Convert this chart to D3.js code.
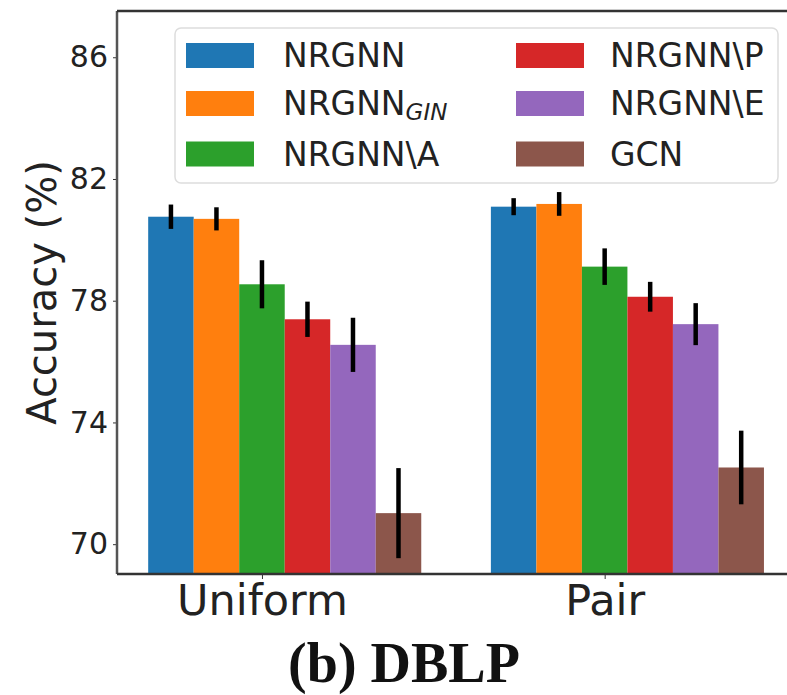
<!DOCTYPE html>
<html><head><meta charset="utf-8">
<script src="https://cdn.jsdelivr.net/npm/d3@7"></script>
<style>body{margin:0;background:#fff}svg{display:block}</style>
</head><body>
<svg id="chart" width="787" height="695"></svg>
<script>
const groups = ["Uniform", "Pair"];
const methods = ["NRGNN", "NRGNN_GIN", "NRGNN\\A", "NRGNN\\P", "NRGNN\\E", "GCN"];
const colors = ["#1f77b4", "#ff7f0e", "#2ca02c", "#d62728", "#9467bd", "#8c564b"];
const uniformMean = [80.76, 80.69, 78.54, 77.39, 76.55, 71.02];
const uniformErr  = [0.40, 0.38, 0.79, 0.58, 0.89, 1.48];
const pairMean    = [81.09, 81.18, 79.12, 78.13, 77.23, 72.52];
const pairErr     = [0.28, 0.39, 0.60, 0.49, 0.69, 1.21];
const yTicks = [70, 74, 78, 82, 86];

const means = [uniformMean, pairMean];
const errs = [uniformErr, pairErr];

const svg = d3.select("#chart");
const L = 117, T = 11, B = 574;
const barW = 0.1328;
const x = d3.scaleLinear().domain([-0.423, 1.555]).range([L, L + 1.978 * 342.7]);
const y = d3.scaleLinear().domain([69.02, 87.52]).range([B, T]);

// bars
const data = [];
groups.forEach((g, gi) => methods.forEach((m, mi) => data.push({gi, mi, v: means[gi][mi], e: errs[gi][mi]})));

svg.append("g").selectAll("rect").data(data).join("rect")
  .attr("x", d => x(d.gi + (d.mi - 2) * barW - barW / 2))
  .attr("width", d => x(barW) - x(0))
  .attr("y", d => y(d.v))
  .attr("height", d => y.range()[0] - y(d.v))
  .attr("fill", d => colors[d.mi]);

svg.append("g").selectAll("line").data(data).join("line")
  .attr("x1", d => x(d.gi + (d.mi - 2) * barW))
  .attr("x2", d => x(d.gi + (d.mi - 2) * barW))
  .attr("y1", d => y(d.v - d.e))
  .attr("y2", d => y(d.v + d.e))
  .attr("stroke", "#000").attr("stroke-width", 4.5);

// axes
const yAxis = svg.append("g").attr("transform", `translate(${L},0)`)
  .call(d3.axisLeft(y).tickValues(yTicks).tickSize(4).tickPadding(5));
yAxis.select(".domain").remove();
yAxis.selectAll("text").attr("font-family", "DejaVu Sans").attr("font-size", 30).attr("fill", "#222");
yAxis.selectAll("line").attr("stroke", "#333");

const xAxis = svg.append("g").attr("transform", `translate(0,${B})`)
  .call(d3.axisBottom(x).tickValues([0, 1]).tickFormat((d, i) => groups[i]).tickSize(5).tickPadding(5));
xAxis.select(".domain").remove();
xAxis.selectAll("text").attr("font-family", "DejaVu Sans").attr("font-size", 43).attr("fill", "#222");
xAxis.selectAll("line").attr("stroke", "#333");

// spines
svg.append("line").attr("x1", L).attr("x2", L).attr("y1", T).attr("y2", B).attr("stroke", "#555").attr("stroke-width", 2.5);
svg.append("line").attr("x1", L).attr("x2", 787).attr("y1", T).attr("y2", T).attr("stroke", "#333").attr("stroke-width", 2.5);
svg.append("line").attr("x1", L).attr("x2", 787).attr("y1", B).attr("y2", B).attr("stroke", "#333").attr("stroke-width", 2.5);

// y label
svg.append("text").attr("transform", `translate(56,${(T + B) / 2}) rotate(-90)`)
  .attr("text-anchor", "middle").attr("font-family", "DejaVu Sans").attr("font-size", 40).attr("fill", "#222")
  .text("Accuracy (%)");

// legend
const lg = svg.append("g");
lg.append("rect").attr("x", 175).attr("y", 28).attr("width", 603).attr("height", 155).attr("rx", 6)
  .attr("fill", "#fff").attr("fill-opacity", 0.8).attr("stroke", "#ddd").attr("stroke-width", 1.5);
const colX = [186, 516], textX = [283, 610], rowY = [43, 91, 141.5];
methods.forEach((m, i) => {
  const c = Math.floor(i / 3), r = i % 3;
  lg.append("rect").attr("x", colX[c]).attr("y", rowY[r]).attr("width", 68).attr("height", 25).attr("fill", colors[i]);
  const t = lg.append("text").attr("x", textX[c]).attr("y", rowY[r] + 24)
    .attr("font-family", "DejaVu Sans").attr("font-size", 33).attr("fill", "#222");
  if (m.includes("_")) {
    const [a, b] = m.split("_");
    t.append("tspan").text(a);
    t.append("tspan").attr("dy", 5).attr("font-size", 23).attr("font-style", "italic").text(b);
  } else t.text(m);
});

// title
svg.append("text").attr("x", 404).attr("y", 682).attr("text-anchor", "middle")
  .attr("font-family", "Liberation Serif").attr("font-weight", "bold").attr("font-size", 56).attr("fill", "#111")
  .text("(b) DBLP");
</script>
</body></html>
